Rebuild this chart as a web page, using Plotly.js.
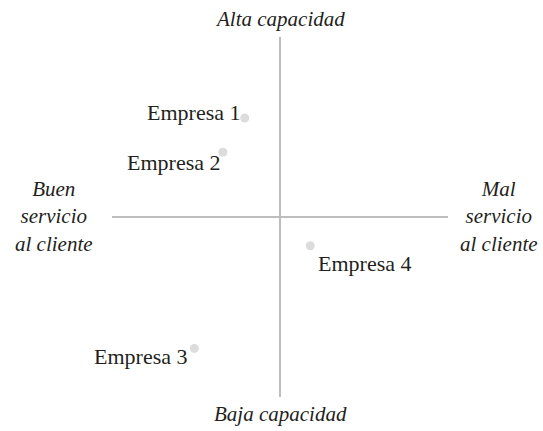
<!DOCTYPE html>
<html>
<head>
<meta charset="utf-8">
<script src="https://cdn.plot.ly/plotly-3.0.1.min.js"></script>
<style>
  html, body { margin: 0; padding: 0; background: #fff; }
  #chart { width: 543px; height: 431px; }
</style>
</head>
<body>
<div id="chart"></div>
<script>
// Posicionamiento: servicio al cliente (x) vs capacidad (y)
const empresas = ['Empresa 1', 'Empresa 2', 'Empresa 3', 'Empresa 4'];
const servicio = [-2.1, -3.4, -5.1, 1.8];
const capacidad = [5.5, 3.6, -7.3, -1.6];

const serifFont = '"Liberation Serif", "DejaVu Serif", serif';

// label placement relative to each point
const labelPos = [
    { xanchor: 'right', yanchor: 'middle', xshift: -3, yshift: 6 },
    { xanchor: 'right', yanchor: 'middle', xshift: -1, yshift: -10 },
    { xanchor: 'right', yanchor: 'middle', xshift: -5, yshift: -8 },
    { xanchor: 'left', yanchor: 'middle', xshift: 6, yshift: -18 }
];

const trace = {
    x: servicio,
    y: capacidad,
    mode: 'markers',
    type: 'scatter',
    marker: { size: 9, color: '#dcdcdc' },
    hoverinfo: 'text',
    text: empresas
};

const pointLabels = empresas.map((name, i) => ({
    x: servicio[i],
    y: capacidad[i],
    text: name,
    showarrow: false,
    font: { family: serifFont, size: 22, color: '#231f20' },
    ...labelPos[i]
}));

const axisLabel = { family: serifFont, size: 21, color: '#231f20', style: 'italic' };

const axisLabels = [
    { x: 0, y: 10, text: 'Alta capacidad', xanchor: 'center', yanchor: 'bottom', yshift: 4 },
    { x: 0, y: -10, text: 'Baja capacidad', xanchor: 'center', yanchor: 'top', yshift: -3 },
    { x: -10, y: 0, text: 'Buen<br>servicio<br>al cliente', xanchor: 'right', yanchor: 'middle', xshift: -17, yshift: 1 },
    { x: 10, y: 0, text: 'Mal<br>servicio<br>al cliente', xanchor: 'left', yanchor: 'middle', xshift: 10, yshift: 1 }
].map(a => ({ ...a, showarrow: false, align: 'center', font: axisLabel }));

const axisStyle = {
    range: [-10, 10],
    showgrid: false,
    showticklabels: false,
    ticks: '',
    showline: false,
    zeroline: true,
    zerolinecolor: '#bdbdbd',
    zerolinewidth: 2,
    fixedrange: true
};

const layout = {
    width: 543,
    height: 431,
    margin: { l: 112, r: 95, t: 37, b: 34 },
    paper_bgcolor: '#fff',
    plot_bgcolor: '#fff',
    showlegend: false,
    xaxis: { ...axisStyle },
    yaxis: { ...axisStyle },
    annotations: [...pointLabels, ...axisLabels]
};

Plotly.newPlot('chart', [trace], layout, { displayModeBar: false, staticPlot: true });
</script>
</body>
</html>
